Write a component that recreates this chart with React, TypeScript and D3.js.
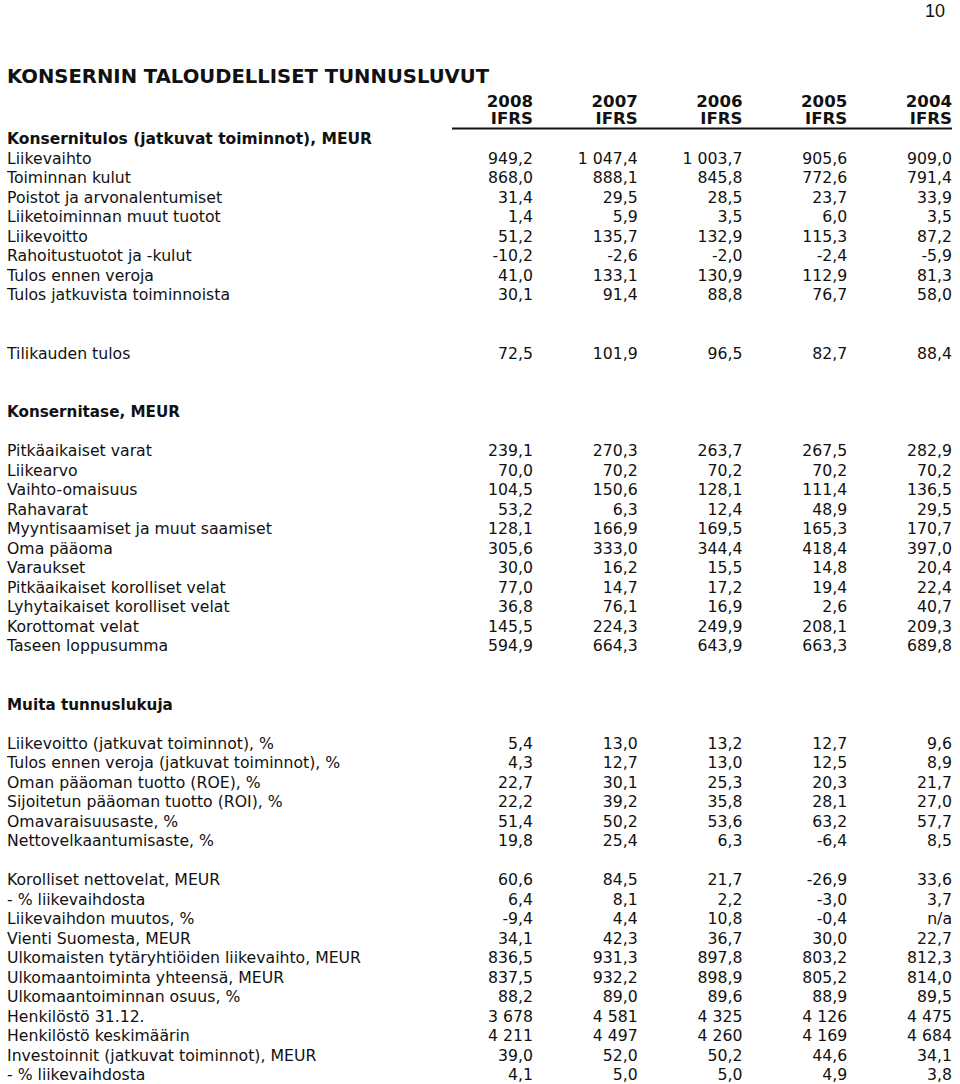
import React, { useEffect, useRef } from "react";
import * as d3 from "d3";

const pageNumber = "10";
const title = "KONSERNIN TALOUDELLISET TUNNUSLUVUT";
const years = ["2008", "2007", "2006", "2005", "2004"];
const standards = ["IFRS", "IFRS", "IFRS", "IFRS", "IFRS"];

const incomeTitle = "Konsernitulos (jatkuvat toiminnot), MEUR";
const incomeLabels = [
  "Liikevaihto",
  "Toiminnan kulut",
  "Poistot ja arvonalentumiset",
  "Liiketoiminnan muut tuotot",
  "Liikevoitto",
  "Rahoitustuotot ja -kulut",
  "Tulos ennen veroja",
  "Tulos jatkuvista toiminnoista",
];
const incomeValues = [
  [949.2, 1047.4, 1003.7, 905.6, 909.0],
  [868.0, 888.1, 845.8, 772.6, 791.4],
  [31.4, 29.5, 28.5, 23.7, 33.9],
  [1.4, 5.9, 3.5, 6.0, 3.5],
  [51.2, 135.7, 132.9, 115.3, 87.2],
  [-10.2, -2.6, -2.0, -2.4, -5.9],
  [41.0, 133.1, 130.9, 112.9, 81.3],
  [30.1, 91.4, 88.8, 76.7, 58.0],
];
const netLabel = "Tilikauden tulos";
const netValues = [72.5, 101.9, 96.5, 82.7, 88.4];

const balanceTitle = "Konsernitase, MEUR";
const balanceLabels = [
  "Pitkäaikaiset varat",
  "Liikearvo",
  "Vaihto-omaisuus",
  "Rahavarat",
  "Myyntisaamiset ja muut saamiset",
  "Oma pääoma",
  "Varaukset",
  "Pitkäaikaiset korolliset velat",
  "Lyhytaikaiset korolliset velat",
  "Korottomat velat",
  "Taseen loppusumma",
];
const balanceValues = [
  [239.1, 270.3, 263.7, 267.5, 282.9],
  [70.0, 70.2, 70.2, 70.2, 70.2],
  [104.5, 150.6, 128.1, 111.4, 136.5],
  [53.2, 6.3, 12.4, 48.9, 29.5],
  [128.1, 166.9, 169.5, 165.3, 170.7],
  [305.6, 333.0, 344.4, 418.4, 397.0],
  [30.0, 16.2, 15.5, 14.8, 20.4],
  [77.0, 14.7, 17.2, 19.4, 22.4],
  [36.8, 76.1, 16.9, 2.6, 40.7],
  [145.5, 224.3, 249.9, 208.1, 209.3],
  [594.9, 664.3, 643.9, 663.3, 689.8],
];

const ratioTitle = "Muita tunnuslukuja";
const ratioLabels = [
  "Liikevoitto (jatkuvat toiminnot), %",
  "Tulos ennen veroja (jatkuvat toiminnot), %",
  "Oman pääoman tuotto (ROE), %",
  "Sijoitetun pääoman tuotto (ROI), %",
  "Omavaraisuusaste, %",
  "Nettovelkaantumisaste, %",
];
const ratioValues = [
  [5.4, 13.0, 13.2, 12.7, 9.6],
  [4.3, 12.7, 13.0, 12.5, 8.9],
  [22.7, 30.1, 25.3, 20.3, 21.7],
  [22.2, 39.2, 35.8, 28.1, 27.0],
  [51.4, 50.2, 53.6, 63.2, 57.7],
  [19.8, 25.4, 6.3, -6.4, 8.5],
];

const otherLabels = [
  "Korolliset nettovelat, MEUR",
  "- % liikevaihdosta",
  "Liikevaihdon muutos, %",
  "Vienti Suomesta, MEUR",
  "Ulkomaisten tytäryhtiöiden liikevaihto, MEUR",
  "Ulkomaantoiminta yhteensä, MEUR",
  "Ulkomaantoiminnan osuus, %",
  "Henkilöstö 31.12.",
  "Henkilöstö keskimäärin",
  "Investoinnit (jatkuvat toiminnot), MEUR",
  "- % liikevaihdosta",
];
const otherValues: (number | null)[][] = [
  [60.6, 84.5, 21.7, -26.9, 33.6],
  [6.4, 8.1, 2.2, -3.0, 3.7],
  [-9.4, 4.4, 10.8, -0.4, null],
  [34.1, 42.3, 36.7, 30.0, 22.7],
  [836.5, 931.3, 897.8, 803.2, 812.3],
  [837.5, 932.2, 898.9, 805.2, 814.0],
  [88.2, 89.0, 89.6, 88.9, 89.5],
  [3678, 4581, 4325, 4126, 4475],
  [4211, 4497, 4260, 4169, 4684],
  [39.0, 52.0, 50.2, 44.6, 34.1],
  [4.1, 5.0, 5.0, 4.9, 3.8],
];
const integerRows = ["Henkilöstö 31.12.", "Henkilöstö keskimäärin"];
const missingText = "n/a";

type Row = { i: number; label: string; values?: (number | null)[]; head?: "cond" | "bold" };

export default function App() {
  const ref = useRef<SVGSVGElement>(null);

  useEffect(() => {
    document.body.style.margin = "0";
    const svg = d3.select(ref.current);
    svg.selectAll("*").remove();

    const locale = d3.formatLocale({
      decimal: ",",
      thousands: " ",
      grouping: [3],
      currency: ["", ""],
      minus: "-",
    });
    const fmt1 = locale.format(",.1f");
    const fmt0 = locale.format(",.0f");

    const x = d3.scalePoint<string>().domain(years).range([533, 952]);
    const y = d3.scaleLinear().domain([0, 1]).range([163.5, 183]);

    const rows: Row[] = [];
    rows.push({ i: -1, label: incomeTitle, head: "cond" });
    incomeLabels.forEach((l, k) => rows.push({ i: k, label: l, values: incomeValues[k] }));
    rows.push({ i: 10, label: netLabel, values: netValues });
    rows.push({ i: 13, label: balanceTitle, head: "bold" });
    balanceLabels.forEach((l, k) => rows.push({ i: 15 + k, label: l, values: balanceValues[k] }));
    rows.push({ i: 28, label: ratioTitle, head: "bold" });
    ratioLabels.forEach((l, k) => rows.push({ i: 30 + k, label: l, values: ratioValues[k] }));
    otherLabels.forEach((l, k) => rows.push({ i: 37 + k, label: l, values: otherValues[k] }));

    const ink = "#111";
    const body = "'DejaVu Sans', Verdana, sans-serif";

    svg
      .append("text")
      .attr("x", 945)
      .attr("y", 17)
      .attr("text-anchor", "end")
      .attr("font-family", "'Liberation Sans', Arial, sans-serif")
      .attr("font-size", 18)
      .attr("fill", ink)
      .text(pageNumber);

    svg
      .append("text")
      .attr("x", 7)
      .attr("y", 83)
      .attr("font-family", body)
      .attr("font-weight", "bold")
      .attr("font-size", 19.6)
      .attr("fill", ink)
      .text(title);

    const head = svg
      .append("g")
      .attr("font-family", body)
      .attr("font-weight", "bold")
      .attr("font-size", 16.6)
      .attr("fill", ink)
      .attr("text-anchor", "end");
    head
      .selectAll("text.yr")
      .data(years)
      .join("text")
      .attr("class", "yr")
      .attr("x", (d) => x(d)!)
      .attr("y", 107)
      .text((d) => d);
    head
      .selectAll("text.std")
      .data(years)
      .join("text")
      .attr("class", "std")
      .attr("x", (d) => x(d)!)
      .attr("y", 124)
      .text((_, k) => standards[k]);

    svg
      .append("line")
      .attr("x1", 452)
      .attr("x2", x(years[years.length - 1])!)
      .attr("y1", 128.5)
      .attr("y2", 128.5)
      .attr("stroke", ink)
      .attr("stroke-width", 2);

    const g = svg.append("g").attr("font-family", body).attr("font-size", 15.7).attr("fill", ink);

    rows.forEach((r) => {
      const yy = y(r.i);
      g.append("text")
        .attr("x", 7)
        .attr("y", yy)
        .attr("font-weight", r.head ? "bold" : "normal")
        .attr("font-size", r.head === "cond" ? 15.5 : r.head === "bold" ? 15.2 : 15.7)
        .text(r.label);
      if (r.values) {
        const isInt = integerRows.includes(r.label);
        r.values.forEach((v, k) => {
          g.append("text")
            .attr("x", x(years[k])!)
            .attr("y", yy)
            .attr("text-anchor", "end")
            .text(v === null ? missingText : isInt ? fmt0(v) : fmt1(v));
        });
      }
    });
  }, []);

  return <svg ref={ref} width={960} height={1084} style={{ display: "block", background: "#fff" }} />;
}
